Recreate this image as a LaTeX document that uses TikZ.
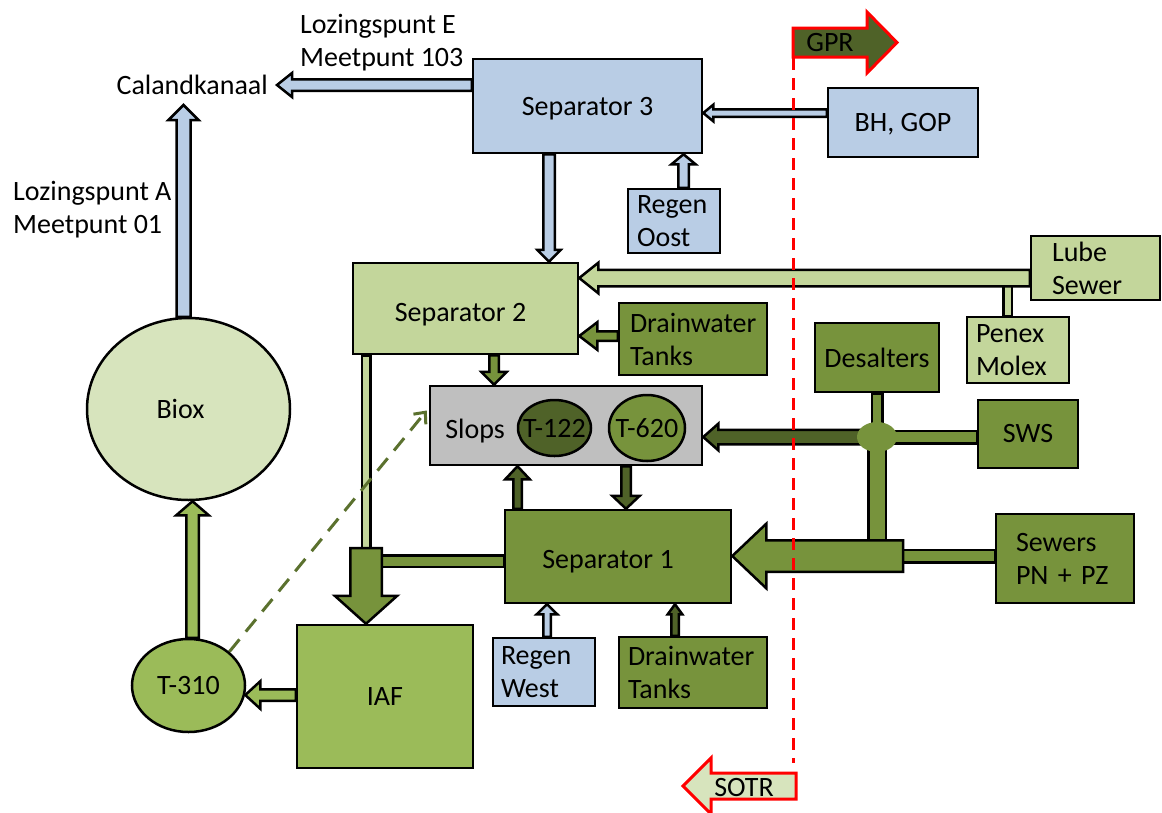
\documentclass[tikz,border=0pt]{standalone}
\usepackage{fontspec}
\setmainfont{Carlito}
\usetikzlibrary{calc,shapes.geometric,arrows.meta}
\pgfdeclarelayer{bars}
\pgfdeclarelayer{arrs}
\pgfsetlayers{bars,arrs,main}
\definecolor{cblue}{HTML}{B9CDE5}
\definecolor{clg}{HTML}{C3D69B}
\definecolor{cvlg}{HTML}{D7E4BD}
\definecolor{cmg}{HTML}{77933C}
\definecolor{cdg}{HTML}{4F6228}
\definecolor{clime}{HTML}{9BBB59}
\definecolor{cgrey}{HTML}{BFBFBF}
\newcommand\blkarrow[6]{%
\draw[#1] let \p1=(#2), \p2=(#3), \n1={veclen(\x2-\x1,\y2-\y1)}, \n2={(\x2-\x1)/\n1}, \n3={(\y2-\y1)/\n1} in
 ({\x1-(#4)*(\n3)},{\y1+(#4)*(\n2)}) --
 ({\x2-(#6)*(\n2)-(#4)*(\n3)},{\y2-(#6)*(\n3)+(#4)*(\n2)}) --
 ({\x2-(#6)*(\n2)-(#5)*(\n3)},{\y2-(#6)*(\n3)+(#5)*(\n2)}) --
 (\p2) --
 ({\x2-(#6)*(\n2)+(#5)*(\n3)},{\y2-(#6)*(\n3)-(#5)*(\n2)}) --
 ({\x2-(#6)*(\n2)+(#4)*(\n3)},{\y2-(#6)*(\n3)-(#4)*(\n2)}) --
 ({\x1+(#4)*(\n3)},{\y1-(#4)*(\n2)}) -- cycle;}
\newcommand\blkbar[4]{%
\draw[#1] let \p1=(#2), \p2=(#3), \n1={veclen(\x2-\x1,\y2-\y1)}, \n2={(\x2-\x1)/\n1}, \n3={(\y2-\y1)/\n1} in
 ({\x1-(#4)*(\n3)},{\y1+(#4)*(\n2)}) -- ({\x2-(#4)*(\n3)},{\y2+(#4)*(\n2)}) --
 ({\x2+(#4)*(\n3)},{\y2-(#4)*(\n2)}) -- ({\x1+(#4)*(\n3)},{\y1-(#4)*(\n2)}) -- cycle;}
\begin{document}
\begin{tikzpicture}[x=1pt,y=-1pt,
 every node/.style={font=\fontsize{28}{33}\selectfont},
 bx/.style={draw=black,line width=2.5pt,inner sep=0pt},
 ar/.style={draw=black,line width=2.5pt,line join=miter,fill=#1},
 bar/.style={draw=black,line width=2.5pt,fill=#1},
 reddash/.style={red,line width=3pt,dash pattern=on 12pt off 8pt},
 regarrow/.style={draw=red,line width=3pt,line join=miter,fill=#1}]
\useasboundingbox (0,0) rectangle (1162,812);
% text labels
\node[anchor=east,inner xsep=9pt,inner ysep=0pt,minimum height=40pt] (cal) at (277,85) {Calandkanaal};
\node[anchor=west,align=left,inner sep=0pt] (lozE) at (300,42.5) {Lozingspunt E\\Meetpunt 103};
\node[anchor=west,align=left,inner sep=0pt] (lozA) at (13,209.5) {Lozingspunt A\\Meetpunt 01};
% boxes
\node[bx,fill=cblue,minimum width=229pt,minimum height=94pt,label={[yshift=-3pt]center:Separator 3}] (sep3) at (587.5,106) {};
\node[bx,fill=cblue,minimum width=150pt,minimum height=69pt,label={[yshift=-2pt]center:BH, GOP}] (bh) at (903,122.5) {};
\node[bx,fill=cblue,align=left,text width=74pt,inner xsep=9pt,minimum height=64pt] (roost) at (674,221) {Regen\\Oost};
\node[bx,fill=clg,minimum width=225pt,minimum height=91pt,label={[shift={(-5,6)}]center:Separator 2}] (sep2) at (465.5,308.5) {};
\node[bx,fill=clg,align=left,text width=87pt,inner xsep=21pt,minimum height=64pt] (lube) at (1095.5,268) {Lube\\Sewer};
\node[bx,fill=clg,align=left,text width=84pt,inner xsep=9pt,minimum height=66pt] (penex) at (1018,350) {Penex\\Molex};
\node[bx,fill=cmg,align=left,text width=126pt,inner xsep=11pt,minimum height=72pt] (dw1) at (693,339) {Drainwater\\Tanks};
\node[bx,fill=cmg,minimum width=124pt,minimum height=69pt] (desal) at (877,357.5) {Desalters};
\node[bx,fill=cgrey,minimum width=272pt,minimum height=79pt,label={[anchor=west,xshift=13pt,yshift=-6pt]west:Slops}] (slops) at (566,425.5) {};
\node[bx,ellipse,fill=cdg,minimum width=73pt,minimum height=56pt,label=center:T-122] (t122) at (554.5,428) {};
\node[bx,ellipse,fill=cmg,minimum width=76pt,minimum height=66pt,label=center:T-620] (t620) at (647,428) {};
\node[bx,fill=cmg,minimum width=100pt,minimum height=68pt] (sws) at (1028,434) {SWS};
\node[fill=cmg,ellipse,minimum width=40pt,minimum height=30pt,inner sep=0pt] (junc) at (877,437) {};
\node[bx,fill=cmg,minimum width=226pt,minimum height=93pt,label={[shift={(-10,5)}]center:Separator 1}] (sep1) at (618,556.5) {};
\node[bx,fill=cmg,align=left,text width=98pt,inner xsep=20pt,minimum height=89pt] (sewers) at (1065,558.5) {Sewers\\PN + PZ};
\node[bx,fill=cblue,align=left,text width=86pt,inner xsep=8pt,minimum height=68pt] (rwest) at (544,672) {Regen\\West};
\node[bx,fill=cmg,align=left,text width=130pt,inner xsep=9pt,minimum height=71pt] (dw2) at (693,672.5) {Drainwater\\Tanks};
\node[bx,fill=clime,minimum width=176pt,minimum height=143pt] (iaf) at (385,696.5) {IAF};
\node[bx,ellipse,fill=clime,minimum width=113pt,minimum height=93pt,label=center:T-310] (t310) at (188.5,685.5) {};
\node[bx,ellipse,fill=cvlg,minimum width=203pt,minimum height=182pt,label={[xshift=-8pt]center:Biox}] (biox) at (188.5,409) {};
\coordinate (iafin) at (366,548);
\coordinate (sewin) at (903,556);
% bars
\begin{pgfonlayer}{bars}
\blkbar{bar=clg}{$(penex.north)+(-10.5,0)$}{$(penex.north)+(-10.5,-35)$}{4.25}
\blkbar{bar=clg}{$(sep2.south)+(-99.5,0)$}{iafin}{4.25}
\blkbar{bar=cmg}{$(sep1.west)+(0,4.5)$}{$(iafin)+(0,13)$}{5.75}
\blkbar{bar=cmg}{$(sws.west)+(0,3)$}{junc}{6.25}
\blkbar{bar=cmg}{desal.south}{junc}{5.25}
\blkbar{bar=cmg}{junc}{$(sewin)+(-26,0)$}{8.75}
\blkbar{bar=cmg}{$(sewers.west)+(0,-2.5)$}{sewin}{6.25}
\end{pgfonlayer}
% arrows
\begin{pgfonlayer}{arrs}
\blkarrow{ar=cblue}{$(sep3.west)+(0,-21)$}{cal.east}{5.75}{12}{15}
\blkarrow{ar=cblue}{$(biox.north)+(-5,0)$}{$(cal.east)+(-93.5,20)$}{7}{15}{15}
\blkarrow{ar=cblue}{$(sep3.south)+(-38.5,0)$}{$(sep2.north)+(83.5,0)$}{5.75}{11.75}{12}
\blkarrow{ar=cblue}{$(bh.west)+(0,-9.5)$}{$(sep3.east)+(0,7)$}{3.75}{8.25}{10}
\blkarrow{ar=cblue}{$(roost.north)+(9.5,0)$}{$(sep3.south)+(96,0)$}{5.25}{12}{10}
\blkarrow{ar=clg}{$(lube.west)+(0,10)$}{$(sep2.east)+(0,-30.5)$}{8.25}{15.25}{19}
\blkarrow{ar=cmg}{$(dw1.west)+(0,-3)$}{$(sep2.east)+(0,27.5)$}{4.75}{13.75}{18}
\blkarrow{ar=cmg}{$(sep2.south)+(28.5,0)$}{$(slops.north)+(-72,0)$}{4.75}{12.75}{13}
\blkarrow{ar=cmg}{iafin}{$(iaf.north)+(-19,0)$}{15.75}{31.25}{28}
\blkarrow{ar=clime}{$(iaf.west)+(0,-1.5)$}{$(t310.east)+(-1,9.5)$}{5.75}{13.75}{15}
\blkarrow{ar=clime}{$(t310.north)+(4,0)$}{$(biox.south)+(4,0)$}{6.25}{16.25}{14}
\blkarrow{ar=cdg}{$(slops.south)+(60,0)$}{$(sep1.north)+(8,0)$}{4.75}{13.75}{13}
\blkarrow{ar=cdg}{$(sep1.north)+(-100.5,0)$}{$(slops.south)+(-48.5,0)$}{4.25}{12.25}{13}
\blkarrow{ar=cdg}{junc}{$(slops.east)+(0,11.5)$}{7.25}{13.25}{15}
\blkarrow{ar=cmg}{sewin}{$(sep1.east)+(0,-0.5)$}{15.75}{32.25}{34}
\blkarrow{ar=cblue}{$(rwest.north)+(3,0)$}{$(sep1.south)+(-71,0)$}{3.75}{10.25}{10}
\blkarrow{ar=cdg}{$(dw2.north)+(-18,0)$}{$(sep1.south)+(57,0)$}{3.75}{7.25}{10}
\draw[cdg!70!cmg,line width=3pt,dash pattern=on 16pt off 10pt,-{Straight Barb[length=9pt,width=16pt]}] (t310.north east) -- ($(slops.west)+(-2,-15)$);
\end{pgfonlayer}
% boundary line and region arrows
\coordinate (dtop) at (793,58);
\coordinate (dbot) at (793,763);
\draw[reddash] (dtop) -- (dbot);
\draw[regarrow=cdg] (793,28) -- (867,28) -- (867,12) -- (897,42.5) -- (867,73) -- (867,57) -- (793,57) -- cycle;
\node (gpr) at (830,43) {GPR};
\draw[regarrow=cvlg] (796,773) -- (711,773) -- (711,758) -- (683,786) -- (711,814) -- (711,799) -- (796,799) -- cycle;
\node (sotr) at (744,787) {SOTR};
\end{tikzpicture}
\end{document}
